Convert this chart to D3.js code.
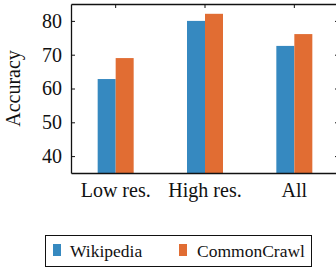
<!DOCTYPE html>
<html><head><meta charset="utf-8">
<script src="https://cdn.jsdelivr.net/npm/d3@7"></script>
<style>body{margin:0;background:#fff}svg{display:block}</style>
</head><body>
<script>
const categories = ["Low res.", "High res.", "All"];
const seriesNames = ["Wikipedia", "CommonCrawl"];
const wikipedia = [62.8, 80.0, 72.6];
const commonCrawl = [69.0, 82.1, 76.1];
const yTicks = [40, 50, 60, 70, 80];
const colors = ["#3689c0", "#e16d33"];

(function () {
const FONT = "'Liberation Serif', 'Times New Roman', Times, serif";
const W = 336, H = 268;
const m = {left: 71, right: -3, top: 4, bottom: 95};
const svg = d3.select("body").append("svg").attr("width", W).attr("height", H);
const x = d3.scaleBand().domain(categories).range([m.left, W - m.right]).paddingInner(0).paddingOuter(0);
const y = d3.scaleLinear().domain([35, 85]).range([H - m.bottom, m.top]);
const x1 = d3.scaleBand().domain(seriesNames).range([0, 36]);
const series = [wikipedia, commonCrawl];

const g = svg.append("g");
categories.forEach((c, i) => {
  series.forEach((s, j) => {
    g.append("rect")
      .attr("x", x(c) + x.bandwidth() / 2 - 18 + x1(seriesNames[j]))
      .attr("y", y(s[i]))
      .attr("width", x1.bandwidth())
      .attr("height", y(35) - y(s[i]))
      .attr("fill", colors[j]);
  });
});

const axLeft = svg.append("g").attr("transform", `translate(${m.left},0)`)
  .call(d3.axisLeft(y).tickValues(yTicks).tickSizeInner(-4).tickSizeOuter(0).tickPadding(9));
const axRight = svg.append("g").attr("transform", `translate(${W - m.right},0)`)
  .call(d3.axisRight(y).tickValues(yTicks).tickSizeInner(-4).tickSizeOuter(0).tickFormat(""));
const axTop = svg.append("g").attr("transform", `translate(0,${m.top})`)
  .call(d3.axisTop(x).tickSizeInner(-4).tickSizeOuter(0).tickFormat(""));
const axBottom = svg.append("g").attr("transform", `translate(0,${H - m.bottom})`)
  .call(d3.axisBottom(x).tickSize(0).tickPadding(10));
[axLeft, axRight, axTop, axBottom].forEach(a => {
  a.attr("font-family", FONT).attr("font-size", 20);
  a.selectAll("path").attr("stroke", "#111").attr("stroke-width", 1.3);
  a.selectAll("line").attr("stroke", "#111").attr("stroke-width", 1);
  a.selectAll("text").attr("fill", "#111");
});

svg.append("text")
  .attr("transform", `translate(20,${(m.top + H - m.bottom) / 2}) rotate(-90)`)
  .attr("text-anchor", "middle").attr("font-family", FONT).attr("font-size", 20)
  .attr("fill", "#111").text("Accuracy");

const lg = svg.append("g");
lg.append("rect").attr("x", 45.5).attr("y", 235.5).attr("width", 266).attr("height", 31)
  .attr("fill", "#fff").attr("stroke", "#111").attr("stroke-width", 1);
const lx = [53, 179], tx = [70, 197];
seriesNames.forEach((n, j) => {
  lg.append("rect").attr("x", lx[j]).attr("y", 244).attr("width", 8).attr("height", 12).attr("fill", colors[j]);
  lg.append("text").attr("x", tx[j]).attr("y", 257).attr("font-family", FONT).attr("font-size", 17.5)
    .attr("fill", "#111").text(n);
});
})();
</script>
</body></html>
